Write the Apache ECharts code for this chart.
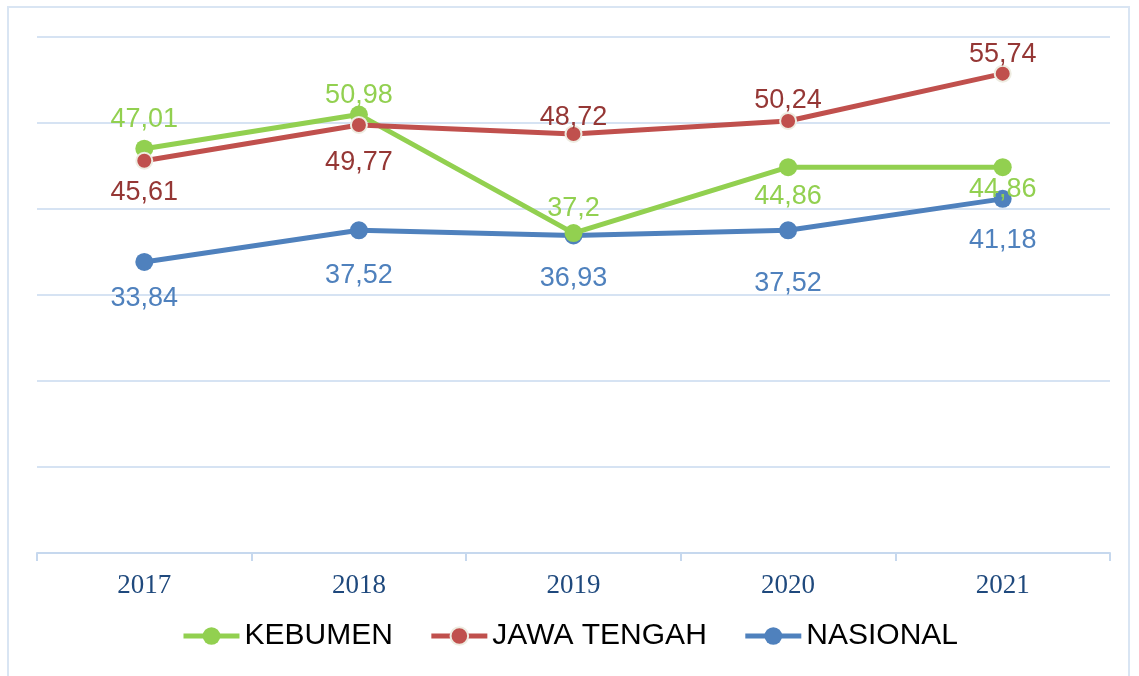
<!DOCTYPE html>
<html>
<head>
<meta charset="utf-8">
<script src="https://cdn.jsdelivr.net/npm/echarts@6/dist/echarts.min.js"></script>
<style>
  html, body { margin: 0; padding: 0; background: #fff; }
  #lineChart { width: 1139px; height: 676px; }
</style>
</head>
<body>
<div id="lineChart"></div>
<script>
// data
var years = ['2017', '2018', '2019', '2020', '2021'];
var kebumen = [47.01, 50.98, 37.2, 44.86, 44.86];
var jawaTengah = [45.61, 49.77, 48.72, 50.24, 55.74];
var nasional = [33.84, 37.52, 36.93, 37.52, 41.18];

// label placement (style only)
var kebumenPos = ['top', 'top', 'top', 'bottom', 'bottom'];
var kebumenDist = [7, -3, 2, 7, 0];
var jawaPos = ['bottom', 'bottom', 'top', 'top', 'top'];
var jawaDist = [9, 15, -6, -2, -3];
var nasionalDist = [14, 23, 21, 31, 19];

function fmt(v) {
    return String(v).replace('.', ',');
}

// build points with per-point label
function makeData(values, pos, dist) {
    return values.map(function (v, i) {
        return {
            value: v,
            label: { position: pos[i], distance: dist[i] }
        };
    });
}

var nasPos = nasional.map(function () { return 'bottom'; });

var myChart = echarts.init(document.getElementById('lineChart'));

var labelBase = {
    show: true,
    fontFamily: 'Liberation Sans',
    fontSize: 27,
    formatter: function (p) { return fmt(p.value); }
};

var option = {
    animation: false,
    graphic: [{
        type: 'rect',
        shape: { x: 8, y: 7, width: 1121, height: 720 },
        style: { fill: 'none', stroke: '#d9e5f3', lineWidth: 2 },
        silent: true,
        z: -1
    }],
    grid: {
        left: 37,
        right: 29,
        top: 37,
        bottom: 123
    },
    legend: {
        bottom: 20,
        left: 'center',
        itemWidth: 56,
        itemHeight: 22,
        itemGap: 36,
        lineStyle: { width: 5 },
        textStyle: {
            fontFamily: 'Liberation Sans',
            fontSize: 30,
            color: '#000'
        },
        data: ['KEBUMEN', 'JAWA TENGAH', 'NASIONAL']
    },
    xAxis: {
        type: 'category',
        data: years,
        boundaryGap: true,
        axisLine: { lineStyle: { color: '#c6d8ee', width: 2 } },
        axisTick: { show: true, length: 8, lineStyle: { color: '#c6d8ee', width: 2 } },
        axisLabel: {
            margin: 19,
            fontFamily: 'Liberation Serif',
            fontSize: 27,
            color: '#1f497d'
        }
    },
    yAxis: {
        type: 'value',
        min: 0,
        max: 60,
        interval: 10,
        axisLabel: { show: false },
        axisLine: { show: false },
        axisTick: { show: false },
        splitLine: { lineStyle: { color: '#d6e3f3', width: 2 } }
    },
    series: [
        {
            name: 'KEBUMEN',
            type: 'line',
            data: makeData(kebumen, kebumenPos, kebumenDist),
            symbol: 'circle',
            symbolSize: 18,
            lineStyle: { color: '#92d050', width: 5 },
            itemStyle: { color: '#92d050' },
            label: Object.assign({ color: '#92d050' }, labelBase),
            z: 3
        },
        {
            name: 'JAWA TENGAH',
            type: 'line',
            data: makeData(jawaTengah, jawaPos, jawaDist),
            symbol: 'circle',
            symbolSize: 16,
            lineStyle: { color: '#c0504d', width: 5 },
            itemStyle: { color: '#c0504d', borderColor: '#eeece1', borderWidth: 2 },
            label: Object.assign({ color: '#953735' }, labelBase),
            z: 4
        },
        {
            name: 'NASIONAL',
            type: 'line',
            data: makeData(nasional, nasPos, nasionalDist),
            symbol: 'circle',
            symbolSize: 18,
            lineStyle: { color: '#4f81bd', width: 5 },
            itemStyle: { color: '#4f81bd' },
            label: Object.assign({ color: '#4f81bd' }, labelBase),
            z: 2
        }
    ]
};

myChart.setOption(option);
</script>
</body>
</html>
